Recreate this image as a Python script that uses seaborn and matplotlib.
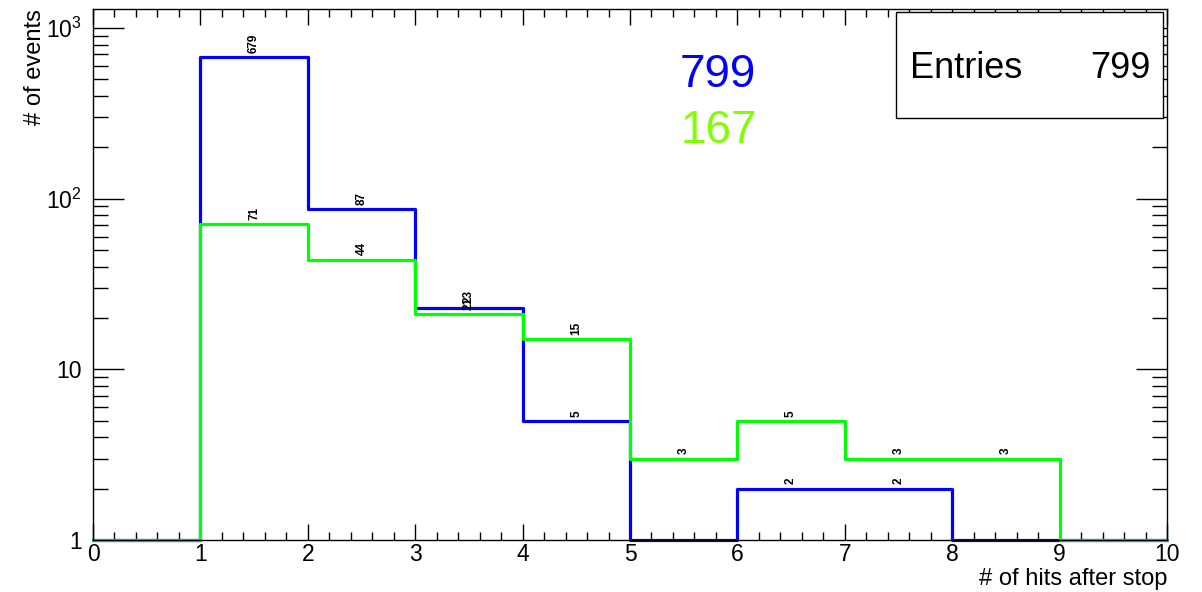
import numpy as np
import pandas as pd
import matplotlib
matplotlib.use("Agg")
import matplotlib.pyplot as plt
import seaborn as sns
from matplotlib.ticker import FixedLocator, FixedFormatter, LogLocator, NullFormatter, MultipleLocator

# ---- data ----
bin_edges = [0, 1, 2, 3, 4, 5, 6, 7, 8, 9, 10]
blue_counts = [0, 679, 87, 23, 5, 0, 2, 2, 0, 0]
green_counts = [0, 71, 44, 21, 15, 3, 5, 3, 3, 0]
blue_total = "799"
green_total = "167"
entries = "799"
xlabel = "# of hits after stop"
ylabel = "# of events"
ytick_vals = [1, 10, 100, 1000]
ytick_labels = ["1", "10", r"$10^{2}$", r"$10^{3}$"]

sns.set_style("ticks")
plt.rcParams['font.family'] = ['Liberation Sans', 'DejaVu Sans']
plt.rcParams['mathtext.fontset'] = 'custom'
plt.rcParams['mathtext.rm'] = 'Liberation Sans'
plt.rcParams['text.color'] = 'black'
plt.rcParams['axes.labelcolor'] = 'black'

W, H = 1202, 592
fig = plt.figure(figsize=(W / 100, H / 100), dpi=100)
ax = fig.add_axes([93 / W, 1 - 540 / H, (1167 - 93) / W, (540 - 9) / H])

ymin, ymax = 1, 1292
edges = np.array(bin_edges, dtype=float)

def draw(counts, color):
    c = np.maximum(np.array(counts, dtype=float), ymin)
    yy = np.append(c, c[-1])
    df = pd.DataFrame({"x": edges, "y": yy})
    sns.lineplot(data=df, x="x", y="y", drawstyle="steps-post", color=color,
                 lw=2.3, ax=ax, clip_on=False, estimator=None, sort=False)
    centers = (edges[:-1] + edges[1:]) / 2
    for xc, v in zip(centers, counts):
        if v > 0:
            ax.annotate(str(v), (xc, v), xytext=(0, 3), textcoords="offset points",
                        rotation=90, ha="center", va="bottom", fontsize=8.5,
                        fontweight="bold", color="black")

draw(blue_counts, "#0000ff")
draw(green_counts, "#00ff00")

ax.set_yscale("log")
ax.set_xlim(0, 10)
ax.set_ylim(ymin, ymax)

ax.xaxis.set_major_locator(MultipleLocator(1))
ax.xaxis.set_minor_locator(MultipleLocator(0.2))
ax.yaxis.set_major_locator(FixedLocator(ytick_vals))
ax.yaxis.set_major_formatter(FixedFormatter(ytick_labels))
ax.yaxis.set_minor_locator(LogLocator(base=10, subs=np.arange(2, 10)))
ax.yaxis.set_minor_formatter(NullFormatter())

ax.tick_params(axis="both", which="both", direction="in", top=True, right=True,
               labelsize=16.5, colors="black", width=1)
ax.tick_params(axis="x", which="major", length=11.5, pad=2)
ax.tick_params(axis="x", which="minor", length=6)
ax.tick_params(axis="y", which="major", length=22, pad=8)
ax.tick_params(axis="y", which="minor", length=11)

for s in ax.spines.values():
    s.set_linewidth(1)
    s.set_color("black")
    s.set_visible(True)

ax.set_xlabel(xlabel, fontsize=17, loc="right", color="black")
ax.xaxis.set_label_coords(1.0, -0.052)
ax.set_ylabel(ylabel, fontsize=17, loc="top", color="black")
ax.yaxis.set_label_coords(-0.044, 1.0)

fig.text(680 / W, 1 - 87 / H, blue_total, color="#0000ff", fontsize=33, va="baseline", ha="left")
fig.text(680 / W, 1 - 143 / H, green_total, color="#80ff00", fontsize=33, va="baseline", ha="left")

# stats box
box = plt.Rectangle((896 / W, 1 - 118 / H), (1163 - 896) / W, (118 - 12) / H,
                    transform=fig.transFigure, facecolor="white", edgecolor="black",
                    lw=1, zorder=5)
fig.add_artist(box)
fig.text(910 / W, 1 - 78 / H, "Entries", fontsize=26, va="baseline", ha="left", zorder=6, color="black")
fig.text(1150 / W, 1 - 78 / H, entries, fontsize=26, va="baseline", ha="right", zorder=6, color="black")

fig.savefig("out.png", dpi=100)
